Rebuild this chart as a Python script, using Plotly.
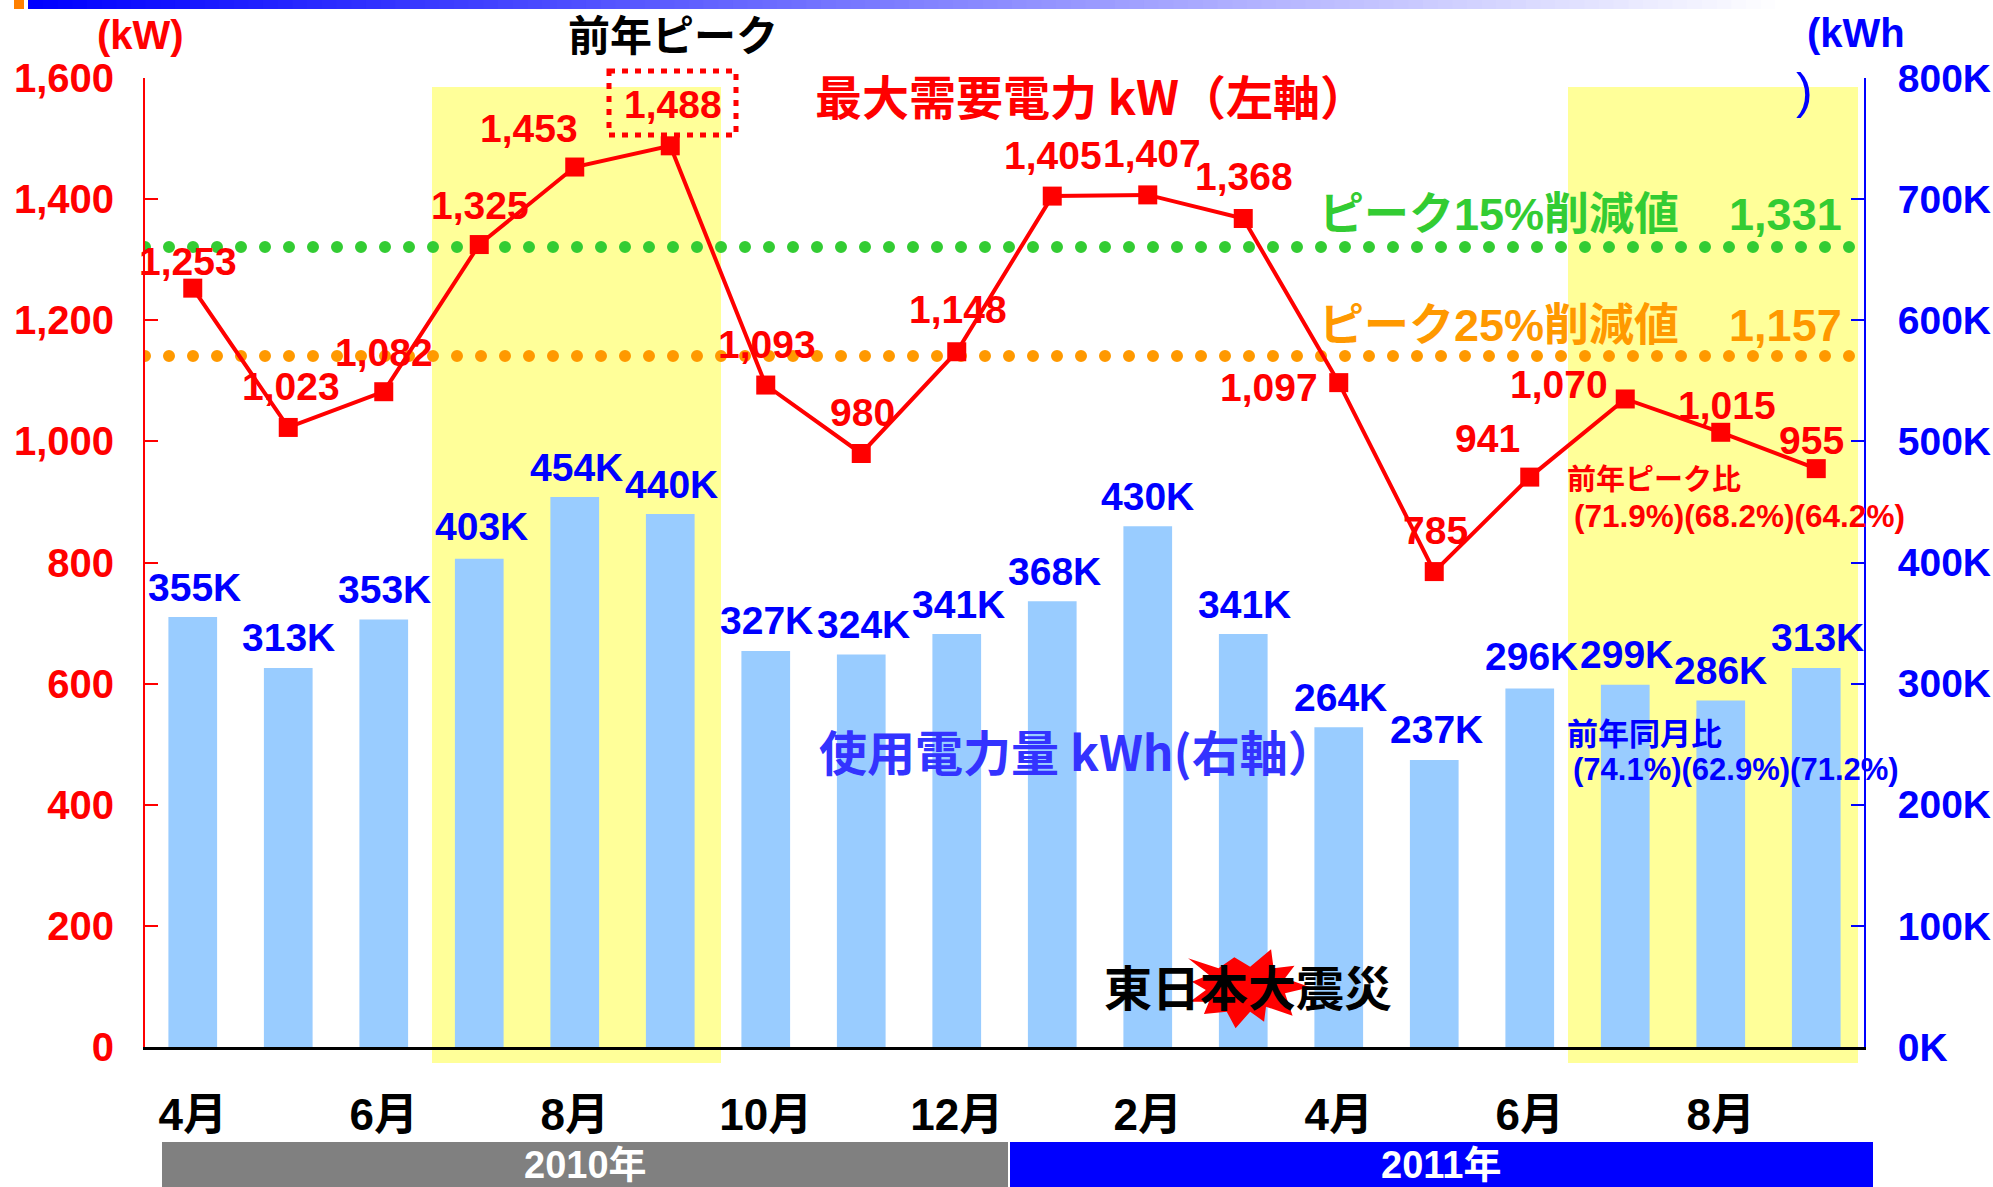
import plotly.graph_objects as go

months = ["4月","5月","6月","7月","8月","9月","10月","11月","12月","1月","2月","3月","4月","5月","6月","7月","8月","9月"]
x_pos = list(range(len(months)))
peak_kw = [1253,1023,1082,1325,1453,1488,1093,980,1148,1405,1407,1368,1097,785,941,1070,1015,955]
usage_k = [355,313,353,403,454,440,327,324,341,368,430,341,264,237,296,299,286,313]
green_level = [1321, 1321]
orange_level = [1141, 1141]
dot_span = [-0.5, 17.35]

peak_dx = [-5,3,0,1,-46,3,1,1,1,1,4,1,-70,1,-42,-66,6,-5]
peak_dy = [27,41,39,39,39,41,41,41,42,41,41,42,-5,41,39,14,27,28]
usage_dx = [2,0,1,2,2,1,1,2,2,2,0,1,2,2,2,1,0,1]
usage_dy = [30,30,30,32,30,30,30,30,29,30,30,29,30,30,32,30,30,30]

W, H = 1993, 1187
L, R, T, B = 145, 1864, 78, 1047
RED, BLUE = "#FF0000", "#0000FF"
LAT = "Liberation Sans, Noto Sans CJK JP"
CJK = "Noto Sans CJK JP, Liberation Sans"

def px(x): return (x - L) / (R - L)
def py(y): return (B - y) / (B - T)

fig = go.Figure()
fig.add_trace(go.Bar(x=x_pos, y=usage_k, width=0.51, marker=dict(color="#99CCFF", line_width=0), yaxis="y", showlegend=False))
fig.add_trace(go.Scatter(x=dot_span, y=green_level, mode="lines", yaxis="y2", cliponaxis=False,
                         line=dict(color="#33CC33", width=12, dash="0px,24px"), showlegend=False))
fig.add_trace(go.Scatter(x=dot_span, y=orange_level, mode="lines", yaxis="y2", cliponaxis=False,
                         line=dict(color="#FF9900", width=12, dash="0px,24px"), showlegend=False))
fig.add_trace(go.Scatter(x=x_pos, y=peak_kw, mode="lines+markers", yaxis="y2", cliponaxis=False,
                         line=dict(color=RED, width=4),
                         marker=dict(symbol="square", size=19, color=RED), showlegend=False))

shapes = []
def rect(x0, y0, x1, y1, color, layer="below"):
    shapes.append(dict(type="rect", xref="paper", yref="paper", x0=px(x0), x1=px(x1), y0=py(y0), y1=py(y1),
                       fillcolor=color, line_width=0, layer=layer))

rect(432, 87, 721, 1063, "#FFFF99")
rect(1568, 87, 1858, 1063, "#FFFF99")
rect(14, 0, 24, 9, "#FF8000")
N = 120
x_a, x_b = 28, 1790
for i in range(N):
    t = i / (N - 1)
    c = f"rgb({round(t*255)},{round(t*255)},255)"
    rect(x_a + (x_b - x_a) * i / N, 0, x_a + (x_b - x_a) * (i + 1) / N + 1, 9, c)
rect(162, 1142, 1008, 1187, "#808080")
rect(1010, 1142, 1873, 1187, BLUE)
shapes.append(dict(type="rect", xref="paper", yref="paper", x0=px(609), x1=px(736), y0=py(71), y1=py(135),
                   line=dict(color=RED, width=5, dash="6px,7px"), fillcolor="rgba(0,0,0,0)", layer="above"))

star = [(297,175),(345,205),(370,172),(395,200),(428,148),(432,205),(465,197),(450,235),(490,262),(450,280),
        (462,347),(420,320),(417,365),(395,335),(372,385),(358,335),(322,342),(330,305),(300,305),(325,270),(303,245),(330,225)]
path = "M " + " L ".join(f"{px(1000+a/1.579):.5f},{py(900+b/3):.5f}" for a, b in star) + " Z"
shapes.append(dict(type="path", xref="paper", yref="paper", path=path, fillcolor=RED, line_width=0, layer="above"))

ann = []
for i, v in enumerate(peak_kw):
    ann.append(dict(x=i, y=v, xref="x", yref="y2", text=f"{v:,}", showarrow=False, xanchor="center", yanchor="middle",
                    xshift=peak_dx[i], yshift=peak_dy[i], font=dict(family=LAT, size=39, color=RED, weight="bold")))
for i, v in enumerate(usage_k):
    ann.append(dict(x=i, y=v, xref="x", yref="y", text=f"{v}K", showarrow=False, xanchor="center", yanchor="middle",
                    xshift=usage_dx[i], yshift=usage_dy[i], font=dict(family=LAT, size=39, color=BLUE, weight="bold")))

def label(text, x, y, color, size, anchor="center", family=CJK, bold=True):
    ann.append(dict(x=px(x), y=py(y), xref="paper", yref="paper", text=text, showarrow=False, xanchor=anchor, yanchor="middle",
                    font=dict(family=family, size=size, color=color, weight="bold" if bold else "normal")))

label("(kW)", 140, 35, RED, 40, family=LAT)
label("(kWh", 1856, 33, BLUE, 40, family=LAT)
label(")", 1804, 91, BLUE, 50, family=LAT, bold=False)
label("前年ピーク", 673, 33, "#000000", 42)
label("最大需要電力 kW（左軸）", 1091, 94, RED, 47)
label("ピーク15%削減値\u00a0\u00a0\u00a0\u00a01,331", 1317, 214, "#33CC33", 45, anchor="left", family=LAT)
label("ピーク25%削減値\u00a0\u00a0\u00a0\u00a01,157", 1317, 325, "#FF9900", 45, anchor="left", family=LAT)
label("使用電力量 kWh(右軸）", 1077, 750, "#3333FF", 48)
label("東日本大震災", 1248, 985, "#000000", 48)
label("前年ピーク比", 1565, 477, RED, 29, anchor="left")
label("(71.9%)(68.2%)(64.2%)", 1572, 516, RED, 31.5, anchor="left", family=LAT)
label("前年同月比", 1565, 731, BLUE, 31, anchor="left")
label("(74.1%)(62.9%)(71.2%)", 1571, 769, BLUE, 31, anchor="left", family=LAT)
label("2010年", 585, 1165, "#FFFFFF", 38, family=LAT)
label("2011年", 1441, 1165, "#FFFFFF", 38, family=LAT)

fig.update_layout(
    width=W, height=H, autosize=False,
    margin=dict(l=L, r=W - R, t=T, b=H - B, pad=0),
    paper_bgcolor="white", plot_bgcolor="rgba(0,0,0,0)",
    shapes=shapes, annotations=ann, showlegend=False, bargap=0.49,
    xaxis=dict(range=[-0.5, 17.5], automargin=False, tickmode="array", tickvals=x_pos[::2], ticktext=months[::2],
               showgrid=False, zeroline=False, showline=True, linecolor="#000000", linewidth=3,
               ticks="", ticklabelstandoff=27,
               tickfont=dict(family=LAT, size=44, color="#000000", weight="bold")),
    yaxis=dict(range=[0, 800], dtick=100, side="right", ticksuffix="K", automargin=False, showgrid=False, zeroline=False,
               showline=True, linecolor=BLUE, linewidth=2, ticks="inside", ticklen=13, tickcolor=BLUE, tickwidth=2,
               ticklabelstandoff=24,
               tickfont=dict(family=LAT, size=39, color=BLUE, weight="bold")),
    yaxis2=dict(range=[0, 1600], dtick=200, side="left", overlaying="y", automargin=False, tickformat=",d", showgrid=False, zeroline=False,
                showline=True, linecolor=RED, linewidth=2, ticks="inside", ticklen=13, tickcolor=RED, tickwidth=2,
                ticklabelstandoff=21,
                tickfont=dict(family=LAT, size=40, color=RED, weight="bold")),
)

post = """
document.body.style.margin='0';
var st=document.createElement('style');
st.textContent='.js-line{stroke-linecap:round !important;}';
document.head.appendChild(st);
"""
fig.write_html("out.html", post_script=post, config={"displayModeBar": False})
